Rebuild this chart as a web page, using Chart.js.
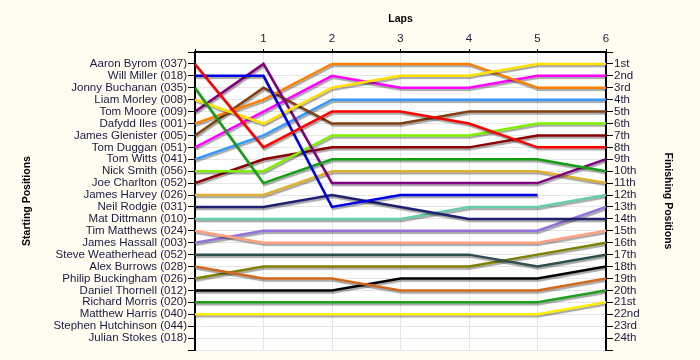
<!DOCTYPE html>
<html>
<head>
<meta charset="utf-8">
<script src="https://cdn.jsdelivr.net/npm/chart.js@4"></script>
<style>
  html, body { margin: 0; padding: 0; background: #fffdf2; }
  #wrap { width: 700px; height: 360px; }
</style>
</head>
<body>
<div id="wrap"><canvas id="chart"></canvas></div>
<script>
// 圈数
const laps = [0, 1, 2, 3, 4, 5, 6];

// 发车顺序 (左轴)
const starters = [
  'Aaron Byrom (037)', 'Will Miller (018)', 'Jonny Buchanan (035)', 'Liam Morley (008)',
  'Tom Moore (009)', 'Dafydd Iles (001)', 'James Glenister (005)', 'Tom Duggan (051)',
  'Tom Witts (041)', 'Nick Smith (056)', 'Joe Charlton (052)', 'James Harvey (026)',
  'Neil Rodgie (031)', 'Mat Dittmann (010)', 'Tim Matthews (024)', 'James Hassall (003)',
  'Steve Weatherhead (052)', 'Alex Burrows (028)', 'Philip Buckingham (026)', 'Daniel Thornell (012)',
  'Richard Morris (020)', 'Matthew Harris (040)', 'Stephen Hutchinson (044)', 'Julian Stokes (018)'
];

// 完赛名次 (右轴)
const finishLabels = [
  '1st', '2nd', '3rd', '4th', '5th', '6th', '7th', '8th', '9th', '10th', '11th', '12th',
  '13th', '14th', '15th', '16th', '17th', '18th', '19th', '20th', '21st', '22nd', '23rd', '24th'
];

// 每圈名次
const posByrom      = [1, 8, 5, 5, 6, 8, 8];
const posMiller     = [2, 2, 13, 12, 12, 12];
const posBuchanan   = [3, 11, 9, 9, 9, 9, 10];
const posMorley     = [4, 6, 3, 2, 2, 1, 1];
const posMoore      = [5, 1, 11, 11, 11, 11, 9];
const posIles       = [6, 4, 1, 1, 1, 3, 3];
const posGlenister  = [7, 3, 6, 6, 5, 5, 5];
const posDuggan     = [8, 5, 2, 3, 3, 2, 2];
const posWitts      = [9, 7, 4, 4, 4, 4, 4];
const posSmith      = [10, 10, 7, 7, 7, 6, 6];
const posCharlton   = [11, 9, 8, 8, 8, 7, 7];
const posHarvey     = [12, 12, 10, 10, 10, 10, 11];
const posRodgie     = [13, 13, 12, 13, 14, 14, 14];
const posDittmann   = [14, 14, 14, 14, 13, 13, 12];
const posMatthews   = [15, 16, 16, 16, 16, 16, 15];
const posHassall    = [16, 15, 15, 15, 15, 15, 13];
const posWeatherhead = [17, 17, 17, 17, 17, 18, 17];
const posBurrows    = [18, 19, 19, 20, 20, 20, 19];
const posBuckingham = [19, 18, 18, 18, 18, 17, 16];
const posThornell   = [20, 20, 20, 19, 19, 19, 18];
const posMorris     = [21, 21, 21, 21, 21, 21, 20];
const posHarris     = [22, 22, 22, 22, 22, 22, 21];

const series = [
  [posByrom, '#ff0000'], [posMiller, '#0000e6'], [posBuchanan, '#12a012'], [posMorley, '#ffe000'],
  [posMoore, '#800080'], [posIles, '#ff8000'], [posGlenister, '#804010'], [posDuggan, '#ff00ff'],
  [posWitts, '#3399ff'], [posSmith, '#80f000'], [posCharlton, '#8b0000'], [posHarvey, '#e0b030'],
  [posRodgie, '#202070'], [posDittmann, '#66cdaa'], [posMatthews, '#ffa080'], [posHassall, '#9370db'],
  [posWeatherhead, '#2f4f4f'], [posBurrows, '#d2691e'], [posBuckingham, '#808000'], [posThornell, '#000000'],
  [posMorris, '#1ea01e'], [posHarris, '#ffee00']
];

const datasets = series.map(([pos, color], i) => ({
  label: starters[i],
  data: pos.map((p, k) => ({ x: laps[k], y: p })),
  borderColor: color,
  borderWidth: 2.5,
  pointRadius: 0,
  tension: 0,
  fill: false
}));

// 背景 + 绘图区白底
const background = {
  id: 'background',
  beforeDraw (chart) {
    const { ctx, chartArea: a } = chart;
    ctx.save();
    ctx.fillStyle = '#fffdf2';
    ctx.fillRect(0, 0, chart.width, chart.height);
    ctx.fillStyle = '#ffffff';
    ctx.fillRect(a.left, a.top, a.right - a.left, a.bottom - a.top);
    ctx.restore();
  }
};

// 线条阴影
const shadow = {
  id: 'shadow',
  beforeDatasetsDraw (chart) {
    const ctx = chart.ctx;
    ctx.save();
    ctx.shadowColor = 'rgba(0,0,0,0.35)';
    ctx.shadowOffsetX = 1;
    ctx.shadowOffsetY = 2;
    ctx.shadowBlur = 1;
  },
  afterDatasetsDraw (chart) {
    chart.ctx.restore();
  }
};

const tickFont = { family: 'Liberation Sans', size: 11.5 };
const titleFont = { family: 'Liberation Sans', size: 10.5, weight: 'bold' };

function posAxis (position, labels, width, titleText, titlePad) {
  return {
    type: 'linear',
    position,
    min: 0,
    max: 25,
    reverse: true,
    afterFit (scale) { scale.width = width; },
    border: { color: '#000', width: 2 },
    grid: {
      color: '#e6e6e6',
      drawOnChartArea: position === 'left',
      tickColor: '#000',
      tickLength: 7,
      tickWidth: 1
    },
    ticks: {
      stepSize: 1,
      autoSkip: false,
      padding: 1,
      color: '#1a1a40',
      font: tickFont,
      callback: (v) => labels[v - 1] || ''
    },
    title: {
      display: true,
      text: titleText,
      color: '#000',
      font: titleFont,
      padding: { top: titlePad, bottom: 0 }
    }
  };
}

new Chart(document.getElementById('chart'), {
  type: 'line',
  data: { datasets },
  plugins: [background, shadow],
  options: {
    responsive: true,
    maintainAspectRatio: false,
    animation: false,
    layout: { padding: { left: 0, right: 0, top: 2, bottom: 10 } },
    plugins: {
      legend: { display: false },
      tooltip: { enabled: false }
    },
    scales: {
      x: {
        type: 'linear',
        position: 'top',
        min: 0,
        max: 6,
        afterFit (scale) { scale.height = 50; },
        border: { color: '#000', width: 2 },
        grid: { color: '#e6e6e6', tickColor: '#000', tickLength: 3 },
        ticks: {
          stepSize: 1,
          padding: 3,
          color: '#1a1a40',
          font: tickFont,
          callback: (v) => (v === 0 ? '' : v)
        },
        title: {
          display: true,
          text: 'Laps',
          color: '#000',
          font: titleFont,
          padding: { top: 11, bottom: 0 }
        }
      },
      y: posAxis('left', starters, 195, 'Starting Positions', 21),
      y2: posAxis('right', finishLabels, 94, 'Finishing Positions', 26)
    }
  }
});
</script>
</body>
</html>
